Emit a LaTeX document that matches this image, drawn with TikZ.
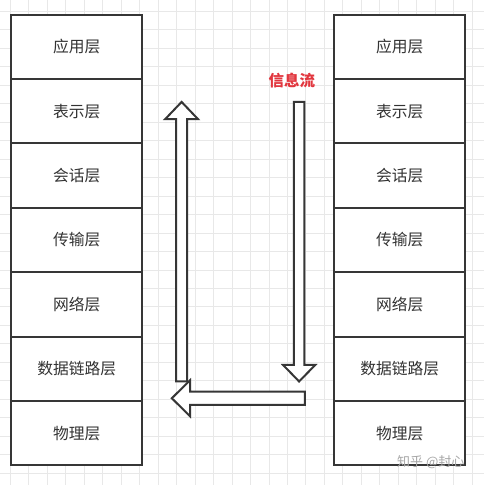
\documentclass[tikz,border=0pt]{standalone}
\usepackage{fontspec}
\setmainfont{Noto Sans CJK SC}
\usetikzlibrary{positioning}
\definecolor{edge}{HTML}{363636}
\definecolor{gridgray}{HTML}{E8E8E8}
\definecolor{flowred}{HTML}{E2363E}

\begin{document}
\begin{tikzpicture}[
    x=1pt, y=-1pt,
    node distance=0pt,
    layer/.style={rectangle, draw=edge, line width=2pt, fill=white,
                  minimum width=131pt, minimum height=64.5pt, outer sep=0pt,
                  inner sep=0pt, align=center, text=black!80,
                  font=\fontsize{15.8}{18}\selectfont},
    flow/.style={draw=edge, line width=2pt, fill=white, line join=miter},
    gridline/.style={gridgray, line width=0.8pt}
]
    % background grid
    \fill[white] (0,0) rectangle (484,485);
    \foreach \i in {0,...,25} {
        \draw[gridline] ({10+18.5*\i},0) -- ++(0,485);
        \draw[gridline] (0,{11+18.5*\i}) -- ++(484,0);
    }
    \useasboundingbox (0,0) rectangle (484,485);

    % sending stack
    \node[layer] (app1) at (76.5,46.5) {应用层};
    \node[layer, below=of app1] (pres1) {表示层};
    \node[layer, below=of pres1] (sess1) {会话层};
    \node[layer, below=of sess1] (trans1) {传输层};
    \node[layer, below=of trans1] (net1) {网络层};
    \node[layer, below=of net1] (link1) {数据链路层};
    \node[layer, below=of link1] (phys1) {物理层};

    % receiving stack
    \node[layer] (app2) at (400,46.5) {应用层};
    \node[layer, below=of app2] (pres2) {表示层};
    \node[layer, below=of pres2] (sess2) {会话层};
    \node[layer, below=of sess2] (trans2) {传输层};
    \node[layer, below=of trans2] (net2) {网络层};
    \node[layer, below=of net2] (link2) {数据链路层};
    \node[layer, below=of link2] (phys2) {物理层};

    \node[text=flowred, font=\fontsize{15.5}{18}\selectfont\bfseries] (flowlabel)
      at (292,80) {信息流};

    % hollow flow arrows
    \draw[flow] (294,101.7) -- (304.5,101.7) -- (304.5,365) -- (315.5,365)
      -- (299.2,381.7) -- (283,365) -- (294,365) -- cycle;
    \draw[flow] (305,391.8) -- (190,391.8) -- (190,380.5) -- (171.7,398.5)
      -- (190,416.5) -- (190,405.2) -- (305,405.2) -- cycle;
    \draw[flow] (176,381.7) -- (176,119) -- (165,119) -- (181.5,101.7)
      -- (198,119) -- (187,119) -- (187,381.7) -- cycle;

    \node[text=black!35, font=\fontsize{13}{15}\selectfont] (mark)
      at (431,463) {知乎 @封心};
\end{tikzpicture}
\end{document}
